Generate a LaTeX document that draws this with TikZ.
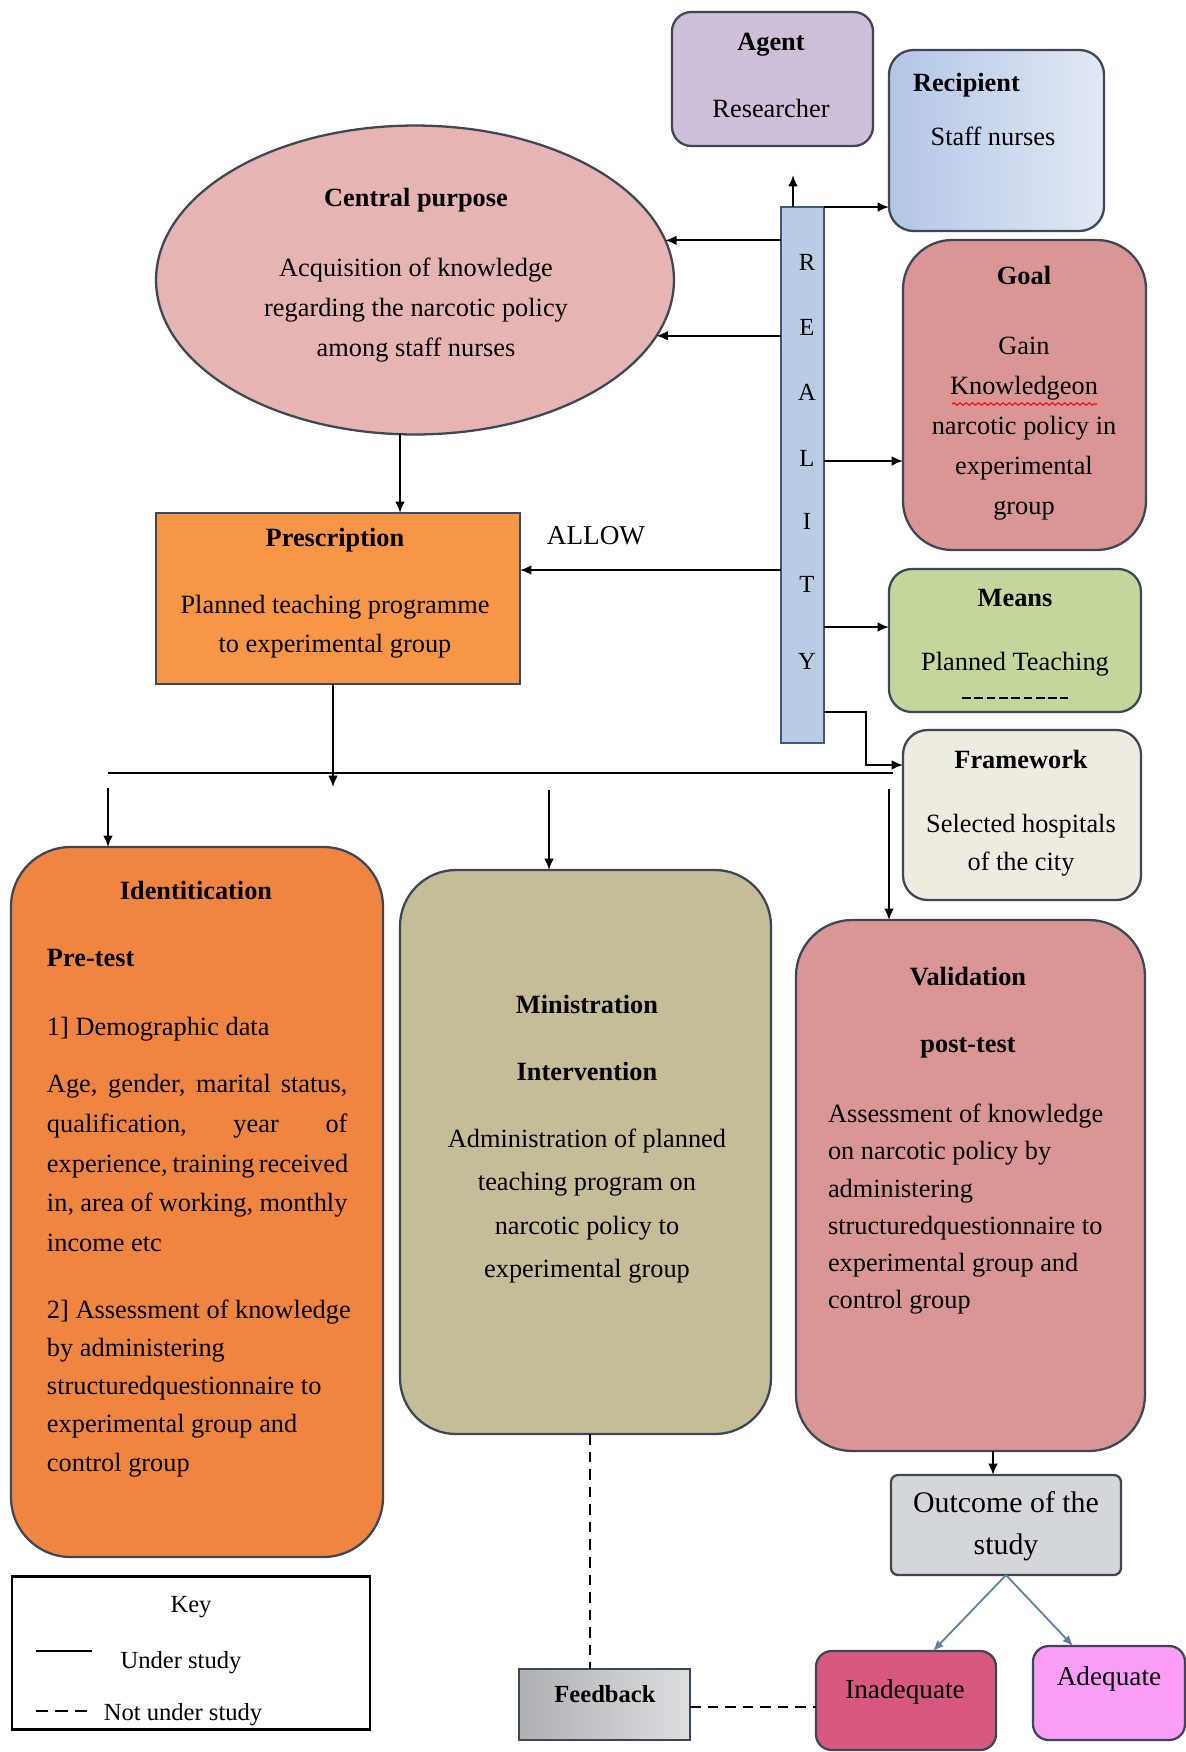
\documentclass[tikz,border=0pt]{standalone}
\usepackage{fontspec}
\setmainfont{Liberation Serif}
\usetikzlibrary{arrows.meta,shapes.geometric,decorations.pathmorphing,fit,calc}
\definecolor{bordc}{HTML}{3E4756}
\definecolor{agentc}{HTML}{CEBFDA}
\definecolor{recL}{HTML}{B3C5E6}
\definecolor{recR}{HTML}{E2E9F4}
\definecolor{cpc}{HTML}{E6B4B2}
\definecolor{barc}{HTML}{B8CCE4}
\definecolor{barb}{HTML}{3D5A80}
\definecolor{goalc}{HTML}{D99694}
\definecolor{meansc}{HTML}{C3D69B}
\definecolor{framec}{HTML}{EEECE1}
\definecolor{presc}{HTML}{F79646}
\definecolor{identc}{HTML}{EF8541}
\definecolor{minc}{HTML}{C4BD97}
\definecolor{outc}{HTML}{D4D7DA}
\definecolor{inadc}{HTML}{D9587F}
\definecolor{adc}{HTML}{F99DF6}
\definecolor{fbL}{HTML}{AEB0B3}
\definecolor{fbR}{HTML}{DDDEE0}
\definecolor{blueln}{HTML}{5B7FA8}
\begin{document}
\begin{tikzpicture}[x=0.02cm,y=-0.02cm,
  every node/.style={inner sep=0pt,outer sep=0pt},
  bx/.style={draw=bordc,line width=1.3pt},
  tx/.style={font=\fontsize{15}{22.7}\selectfont},
  hd/.style={font=\fontsize{15}{22.7}\selectfont\bfseries},
  arr/.style={-{Latex[length=6.5pt,width=5.5pt]},line width=1.1pt},
  barr/.style={-{Latex[length=6pt,width=5pt]},line width=1pt,draw=blueln,fill=blueln},
  dsh/.style={dashed,dash pattern=on 6pt off 4pt,line width=1.1pt}]
\fill[white] (0,0) rectangle (1186,1752);
\useasboundingbox (0,0) rectangle (1186,1752);

% ---------- boxes ----------
\node[bx,rounded corners=11pt,fill=agentc,fit={(672,12)(873,146)}] (agent) {};
\node[bx,rounded corners=14pt,left color=recL,right color=recR,fit={(889,50)(1104,231)}] (rec) {};
\node[bx,ellipse,fill=cpc,minimum width=10.36cm,minimum height=6.18cm] (cp) at (415,280) {};
\node[draw=barb,line width=1pt,fill=barc,fit={(781,207)(824,743)}] (bar) {};
\node[bx,rounded corners=28pt,fill=goalc,fit={(903,240)(1146,550)}] (goal) {};
\node[bx,rounded corners=13pt,fill=meansc,fit={(889,569)(1141,712)}] (means) {};
\node[bx,rounded corners=14pt,fill=framec,fit={(903,730)(1141,900)}] (frame) {};
\node[bx,fill=presc,fit={(156,513)(520,684)}] (pres) {};
\node[bx,rounded corners=34pt,fill=identc,fit={(11,847)(383,1557)}] (ident) {};
\node[bx,rounded corners=32pt,fill=minc,fit={(400,870)(771,1434)}] (mins) {};
\node[bx,rounded corners=32pt,fill=goalc,fit={(796,920)(1145,1451)}] (valid) {};
\node[bx,rounded corners=4pt,fill=outc,fit={(891,1475)(1121,1575)}] (outc) {};
\node[bx,rounded corners=9pt,fill=inadc,fit={(816,1651)(996,1750)}] (inad) {};
\node[bx,rounded corners=9pt,fill=adc,fit={(1033,1646)(1185,1740)}] (adeq) {};
\node[bx,left color=fbL,right color=fbR,fit={(519,1669)(690,1740)}] (fb) {};
\node[draw=black,line width=1.7pt,fit={(12,1576)(370,1729)}] (key) {};

% ---------- texts ----------
\begin{scope}[shift={(0,3)}]
\node[hd,anchor=base] (agentT) at (771,47) {Agent};
\node[tx,anchor=base] (agentB) at (771,114) {Researcher};
\node[hd,anchor=base west] (recT) at (913,88) {Recipient};
\node[tx,anchor=base] (recB) at (993,142) {Staff nurses};

\node[hd,anchor=base] (cpT) at (416,203) {Central purpose};
\node[tx,anchor=north,align=center] (cpB) at (416,255) {Acquisition of knowledge\\regarding the narcotic policy\\among staff nurses};

\foreach \l/\yy [count=\i] in {R/267,E/332,A/397,L/463,I/526,T/589,Y/666}
  \node[font=\fontsize{14}{16}\selectfont,anchor=base] (re\i) at (807,\yy) {\l};

\node[hd,anchor=base] (goalT) at (1024,281) {Goal};
\node[tx,anchor=north,align=center,font=\fontsize{15}{22.8}\selectfont] (goalB) at (1024,334) {Gain\\Knowledgeon\\narcotic policy in\\experimental\\group};
\draw[red,line width=0.6pt,decorate,decoration={snake,amplitude=0.7pt,segment length=3.5pt}] (952,401) -- (1097,401);

\node[hd,anchor=base] (meansT) at (1015,603) {Means};
\node[tx,anchor=base] (meansB) at (1015,667) {Planned Teaching};
\draw[line width=0.9pt,dash pattern=on 5pt off 2pt] (962,695) -- (1068,695);

\node[hd,anchor=base] (frameT) at (1021,765) {Framework};
\node[tx,anchor=north,align=center,font=\fontsize{15}{21.6}\selectfont] (frameB) at (1021,811) {Selected hospitals\\of the city};

\node[hd,anchor=base] (presT) at (335,543) {Prescription};
\node[tx,anchor=north,align=center,font=\fontsize{15}{22.2}\selectfont] (presB) at (335,592) {Planned teaching programme\\to experimental group};
\node[font=\fontsize{15.5}{18}\selectfont,anchor=base] (allow) at (596,541) {ALLOW};

\node[hd,anchor=base] (identT) at (196,896) {Identitication};
\node[hd,anchor=base west] (identP) at (47,963) {Pre-test};
\node[tx,anchor=base west] (identD) at (47,1032) {1] Demographic data};
\node[tx,anchor=north west,align=left] (identA) at (47,1071) {%
\makebox[171pt][s]{Age, gender, marital status,}\\
\makebox[171pt][s]{qualification,\hfill year\hfill of}\\
\makebox[171pt][s]{experience, training received}\\
\makebox[171pt][s]{in, area of working, monthly}\\
income etc};
\node[tx,anchor=north west,align=left,font=\fontsize{15}{21.7}\selectfont] (identK) at (47,1297) {2] Assessment of knowledge\\by administering\\structuredquestionnaire to\\experimental group and\\control group};

\node[hd,anchor=base] (minsT) at (587,1010) {Ministration};
\node[hd,anchor=base] (minsI) at (587,1077) {Intervention};
\node[tx,anchor=north,align=center,font=\fontsize{15}{24.6}\selectfont] (minsB) at (587,1126) {Administration of planned\\teaching program on\\narcotic policy to\\experimental group};

\node[hd,anchor=base] (validT) at (968,982) {Validation};
\node[hd,anchor=base] (validP) at (968,1049) {post-test};
\node[tx,anchor=north west,align=left,font=\fontsize{15}{21.2}\selectfont] (validB) at (828,1101) {Assessment of knowledge\\on narcotic policy by\\administering\\structuredquestionnaire to\\experimental group and\\control group};

\node[anchor=north,align=center,font=\fontsize{17}{24.4}\selectfont] (outT) at (1006,1488) {Outcome of the\\study};
\node[font=\fontsize{15.5}{18}\selectfont,anchor=base] (inadT) at (905,1695) {Inadequate};
\node[font=\fontsize{15.5}{18}\selectfont,anchor=base] (adeqT) at (1109,1682) {Adequate};
\node[font=\fontsize{14}{18}\selectfont\bfseries,anchor=base] (fbT) at (605,1699) {Feedback};

\node[font=\fontsize{14}{18}\selectfont,anchor=base] (keyT) at (191,1609) {Key};
\node[font=\fontsize{14}{18}\selectfont,anchor=base] (keyU) at (181,1665) {Under study};
\node[font=\fontsize{14}{18}\selectfont,anchor=base] (keyN) at (183,1717) {Not under study};
\end{scope}
\coordinate (ks1) at (36,1651); \coordinate (ks2) at (92,1651);
\coordinate (kd1) at (36,1711); \coordinate (kd2) at (89,1711);
\draw[line width=1.3pt] (ks1) -- (ks2);
\draw[line width=1.1pt,dash pattern=on 7pt off 4pt] (kd1) -- (kd2);

% ---------- connectors ----------
\coordinate (barup) at (793,207);
\draw[arr] (barup) -- ++(0,-32);
\draw[arr] (bar.north east) -- (rec.west |- bar.north east);
\draw[arr] (bar.west |- cp.9.1) -- (cp.9.1);
\draw[arr] (bar.west |- cp.-13.6) -- (cp.-13.6);
\coordinate (gl) at (824,461);
\draw[arr] (gl) -- (goal.west |- gl);
\coordinate (ml) at (824,627);
\draw[arr] (ml) -- (means.west |- ml);
\coordinate (fl) at (824,712);
\coordinate (fl2) at (866,765);
\draw[arr] (fl) -| (fl2) -- (frame.west |- fl2);
\coordinate (al) at (781,570);
\draw[arr] (al) -- (pres.east |- al);
\coordinate (cpd) at (400,433);
\draw[arr] (cpd) -- (pres.north -| cpd);
\coordinate (pd) at (333,787);
\draw[arr] (pres.south -| pd) -- (pd);
\coordinate (hl1) at (108,773); \coordinate (hl2) at (893,773);
\draw[line width=1.1pt] (hl1) -- (hl2);
\coordinate (d1) at (108,788); \coordinate (d2) at (549,790); \coordinate (d3) at (889,789);
\draw[arr] (d1) -- (ident.north -| d1);
\draw[arr] (d2) -- (mins.north -| d2);
\draw[arr] (d3) -- (valid.north -| d3);
\coordinate (vo) at (993,1451);
\draw[arr] (vo) -- (outc.north -| vo);
\coordinate (os) at (1006,1575);
\coordinate (ia) at (933,1651);
\coordinate (aa) at (1073,1646);
\draw[barr] (os) -- (ia);
\draw[barr] (os) -- (aa);
\coordinate (mb) at (590,1434);
\draw[dsh] (mb) -- (fb.north -| mb);
\coordinate (fr) at (690,1707);
\draw[dsh] (fr) -- (inad.west |- fr);
\end{tikzpicture}
\end{document}
